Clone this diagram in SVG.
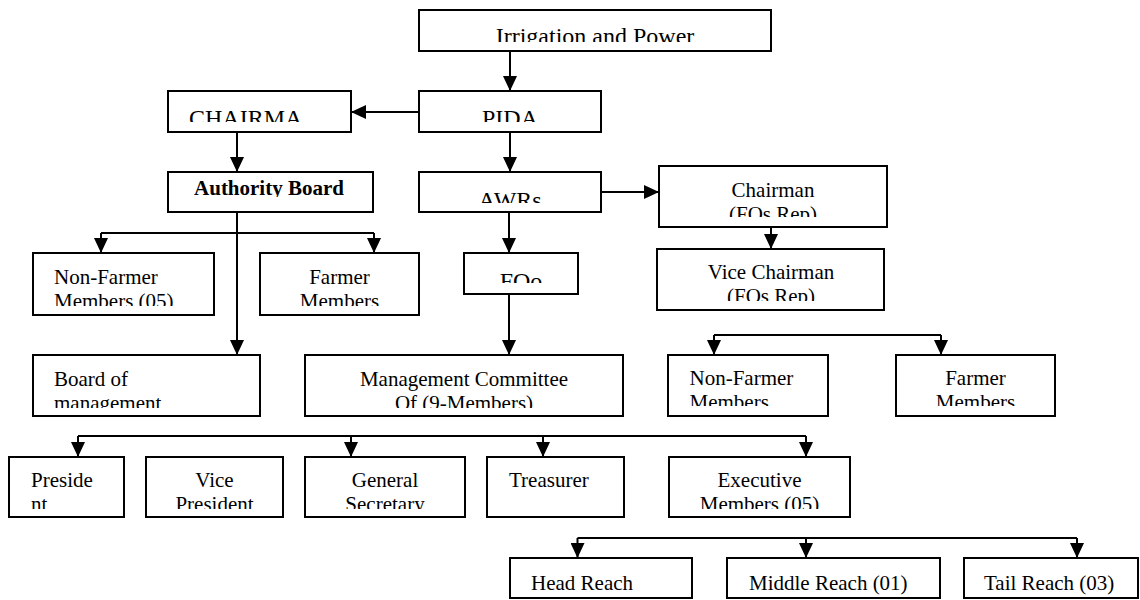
<svg xmlns="http://www.w3.org/2000/svg" width="1140" height="600" viewBox="0 0 1140 600">
<style>
.box{fill:#fff;stroke:#000;stroke-width:2}
.t{font-family:'Liberation Serif','Tinos','Times New Roman','DejaVu Serif',serif;font-size:21px;fill:#000}
.big{font-size:24px}
.b{font-weight:bold}
.c{text-anchor:middle}
.con{fill:none;stroke:#000;stroke-width:2}
.arr{marker-end:url(#ah)}
</style>
<defs>
<marker id="ah" markerWidth="16" markerHeight="14" refX="15" refY="7" orient="auto" markerUnits="userSpaceOnUse"><path d="M0,0 L15,7 L0,14 z" fill="#000"/></marker>
<clipPath id="c-irr"><rect x="419" y="10" width="352" height="32"/></clipPath>
<clipPath id="c-pida"><rect x="419" y="91" width="182" height="31"/></clipPath>
<clipPath id="c-chairma"><rect x="168" y="91" width="183" height="31"/></clipPath>
<clipPath id="c-auth"><rect x="168" y="172" width="205" height="25"/></clipPath>
<clipPath id="c-awrs"><rect x="419" y="172" width="182" height="31"/></clipPath>
<clipPath id="c-chairman"><rect x="659" y="166" width="228" height="51"/></clipPath>
<clipPath id="c-vice"><rect x="657" y="249" width="227" height="52"/></clipPath>
<clipPath id="c-foo"><rect x="464" y="253" width="114" height="30"/></clipPath>
<clipPath id="c-nfl"><rect x="33" y="253" width="181" height="53"/></clipPath>
<clipPath id="c-fml"><rect x="260" y="253" width="159" height="53"/></clipPath>
<clipPath id="c-bom"><rect x="33" y="355" width="227" height="53"/></clipPath>
<clipPath id="c-mc"><rect x="305" y="355" width="318" height="53"/></clipPath>
<clipPath id="c-nfr"><rect x="668" y="355" width="160" height="51"/></clipPath>
<clipPath id="c-fmr"><rect x="896" y="355" width="159" height="51"/></clipPath>
<clipPath id="c-row5"><rect x="0" y="457" width="860" height="52"/></clipPath>
</defs>

<g id="connectors">
<path class="con arr" d="M510,51 V91"/>
<path class="con arr" d="M419,112 H351"/>
<path class="con arr" d="M237,132 V172"/>
<path class="con arr" d="M510,132 V172"/>
<path class="con arr" d="M601,192 H659"/>
<path class="con arr" d="M771,227 V249"/>
<path class="con arr" d="M509,212 V253"/>
<path class="con arr" d="M509,294 V355"/>
<path class="con arr" d="M237,212 V355"/>
<path class="con" d="M101,233 H374"/>
<path class="con arr" d="M101,233 V253"/>
<path class="con arr" d="M374,233 V253"/>
<path class="con" d="M714,335 H941"/>
<path class="con arr" d="M714,335 V355"/>
<path class="con arr" d="M941,335 V355"/>
<path class="con" d="M78,436 H806"/>
<path class="con arr" d="M78,436 V457"/>
<path class="con arr" d="M351,436 V457"/>
<path class="con arr" d="M543,436 V457"/>
<path class="con arr" d="M806,436 V457"/>
<path class="con" d="M577.5,538 H1077"/>
<path class="con arr" d="M577.5,538 V558"/>
<path class="con arr" d="M806,538 V558"/>
<path class="con arr" d="M1077,538 V558"/>
</g>

<g id="irrigation"><rect class="box" x="419" y="10" width="352" height="41"/>
<text class="t big c" x="595" y="44" clip-path="url(#c-irr)">Irrigation and Power</text></g>
<g id="pida"><rect class="box" x="419" y="91" width="182" height="41"/>
<text class="t big c" x="510" y="126" clip-path="url(#c-pida)">PIDA</text></g>
<g id="chairma"><rect class="box" x="168" y="91" width="183" height="41"/>
<text class="t big" x="189" y="126" clip-path="url(#c-chairma)">CHAIRMA</text></g>
<g id="authority-board"><rect class="box" x="168" y="172" width="205" height="40"/>
<text class="t b c" x="269" y="195" clip-path="url(#c-auth)">Authority Board</text></g>
<g id="awrs"><rect class="box" x="419" y="172" width="182" height="40"/>
<text class="t big c" x="510" y="208" clip-path="url(#c-awrs)">AWRs</text></g>
<g id="chairman"><rect class="box" x="659" y="166" width="228" height="61"/>
<text class="t c" clip-path="url(#c-chairman)"><tspan x="773" y="197">Chairman</tspan><tspan x="773" y="221">(FOs Rep)</tspan></text></g>
<g id="vice-chairman"><rect class="box" x="657" y="249" width="227" height="61"/>
<text class="t c" clip-path="url(#c-vice)"><tspan x="771" y="279">Vice Chairman</tspan><tspan x="771" y="303">(FOs Rep)</tspan></text></g>
<g id="fos"><rect class="box" x="464" y="253" width="114" height="41"/>
<text class="t big c" x="521" y="289" clip-path="url(#c-foo)">FOo</text></g>
<g id="non-farmer-left"><rect class="box" x="33" y="253" width="181" height="62"/>
<text class="t" clip-path="url(#c-nfl)"><tspan x="54" y="284">Non-Farmer</tspan><tspan x="54" y="308">Members (05)</tspan></text></g>
<g id="farmer-left"><rect class="box" x="260" y="253" width="159" height="62"/>
<text class="t c" clip-path="url(#c-fml)"><tspan x="339.5" y="284">Farmer</tspan><tspan x="339.5" y="308">Members</tspan></text></g>
<g id="board-of-management"><rect class="box" x="33" y="355" width="227" height="61"/>
<text class="t" clip-path="url(#c-bom)"><tspan x="54" y="386">Board of</tspan><tspan x="54" y="410">management</tspan></text></g>
<g id="management-committee"><rect class="box" x="305" y="355" width="318" height="61"/>
<text class="t c" clip-path="url(#c-mc)"><tspan x="464" y="386">Management Committee</tspan><tspan x="464" y="410">Of (9-Members)</tspan></text></g>
<g id="non-farmer-right"><rect class="box" x="668" y="355" width="160" height="61"/>
<text class="t" clip-path="url(#c-nfr)"><tspan x="689.5" y="385">Non-Farmer</tspan><tspan x="689.5" y="409">Members</tspan></text></g>
<g id="farmer-right"><rect class="box" x="896" y="355" width="159" height="61"/>
<text class="t c" clip-path="url(#c-fmr)"><tspan x="975.5" y="385">Farmer</tspan><tspan x="975.5" y="409">Members</tspan></text></g>
<g id="president"><rect class="box" x="9" y="457" width="115" height="60"/>
<text class="t" clip-path="url(#c-row5)"><tspan x="31" y="487">Preside</tspan><tspan x="31" y="511">nt</tspan></text></g>
<g id="vice-president"><rect class="box" x="146" y="457" width="137" height="60"/>
<text class="t c" clip-path="url(#c-row5)"><tspan x="214.5" y="487">Vice</tspan><tspan x="214.5" y="511">President</tspan></text></g>
<g id="general-secretary"><rect class="box" x="305" y="457" width="160" height="60"/>
<text class="t c" clip-path="url(#c-row5)"><tspan x="385" y="487">General</tspan><tspan x="385" y="511">Secretary</tspan></text></g>
<g id="treasurer"><rect class="box" x="487" y="457" width="137" height="60"/>
<text class="t" x="509" y="487">Treasurer</text></g>
<g id="executive-members"><rect class="box" x="669" y="457" width="181" height="60"/>
<text class="t c" clip-path="url(#c-row5)"><tspan x="759.5" y="487">Executive</tspan><tspan x="759.5" y="511">Members (05)</tspan></text></g>
<g id="head-reach"><rect class="box" x="510" y="558" width="182" height="40"/>
<text class="t" x="531" y="590">Head Reach</text></g>
<g id="middle-reach"><rect class="box" x="727" y="558" width="213" height="40"/>
<text class="t" x="749" y="590">Middle Reach (01)</text></g>
<g id="tail-reach"><rect class="box" x="964" y="558" width="174" height="40"/>
<text class="t" x="984" y="590">Tail Reach (03)</text></g>
</svg>
